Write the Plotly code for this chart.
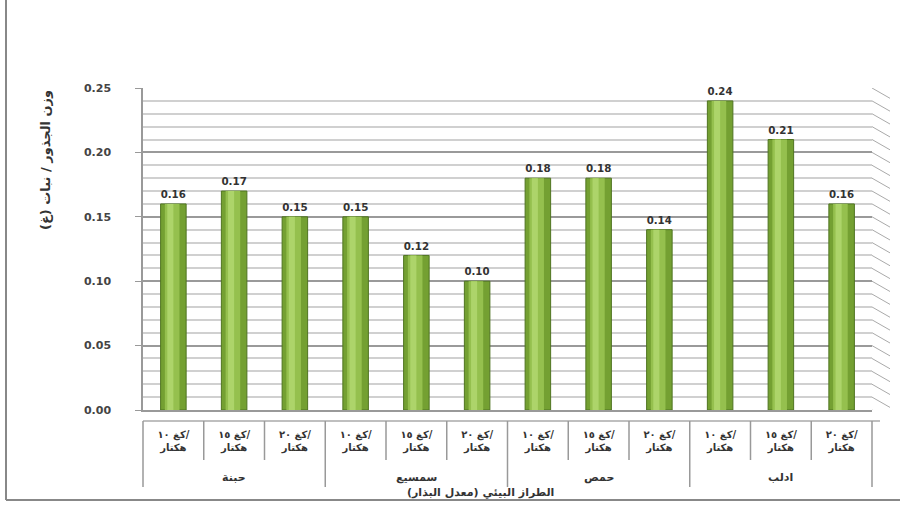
import plotly.graph_objects as go
import numpy as np

groups = ["حبنة", "سمسيع", "حمص", "ادلب"]
rates = ["\u2066١٠\u200e كغ/\u2069<br>هكتار",
         "\u2066١٥\u200e كغ/\u2069<br>هكتار",
         "\u2066٢٠\u200e كغ/\u2069<br>هكتار"]
values = [0.16, 0.17, 0.15, 0.15, 0.12, 0.10, 0.18, 0.18, 0.14, 0.24, 0.21, 0.16]
y_title = "وزن الجذور / نبات (غ)"
x_title = "الطراز البيئي (معدل البذار)"

W, H = 904, 505
L, R, T, B = 143, 32, 88, 95
PW = W - L - R
PH = H - T - B

def px_x(p):
    return (p - L) / PW

def px_y(p):
    return (H - B - p) / PH

n = len(values)
xs = np.arange(n)
tick_text = [r for _ in groups for r in rates]
group_pos = [np.mean(xs[i * len(rates):(i + 1) * len(rates)]) for i in range(len(groups))]

fig = go.Figure()
fig.add_trace(go.Bar(
    x=xs, y=values, width=0.42,
    marker=dict(color="#74A032", line=dict(color="#4F7420", width=1)),
    text=[f"{v:.2f}" for v in values], textposition="outside",
    textfont=dict(family="DejaVu Sans", size=11, color="#333333", weight="bold"),
    cliponaxis=False, hoverinfo="skip",
))
fig.add_trace(go.Bar(
    x=xs, y=values, width=0.24, offset=-0.14,
    marker=dict(color="#95C04E", line=dict(width=0)),
    hoverinfo="skip",
))
fig.add_trace(go.Bar(
    x=xs, y=values, width=0.1, offset=-0.1,
    marker=dict(color="#ADD46A", line=dict(width=0)),
    hoverinfo="skip",
))

shapes = []
# side-wall diagonals
for v in np.round(np.arange(0, 0.2501, 0.01), 2):
    shapes.append(dict(type="line", xref="paper", yref="y",
                       x0=1.0, x1=1.0 + 18 / PW, y0=v, y1=v - 0.008,
                       line=dict(color="#AAAAAA", width=1)))
# floor front edge
shapes.append(dict(type="line", xref="paper", yref="paper",
                   x0=px_x(L), x1=px_x(880), y0=px_y(421), y1=px_y(421),
                   line=dict(color="#AAAAAA", width=1.5)))
# category dividers
for i in range(n + 1):
    big = i % len(rates) == 0
    shapes.append(dict(type="line", xref="paper", yref="paper",
                       x0=i / n, x1=i / n, y0=px_y(421),
                       y1=px_y(487 if big else 460),
                       line=dict(color="#999999", width=1.5)))
# picture frame
shapes.append(dict(type="line", xref="paper", yref="paper",
                   x0=px_x(6), x1=px_x(6), y0=px_y(0), y1=px_y(500),
                   line=dict(color="#888888", width=2)))
shapes.append(dict(type="line", xref="paper", yref="paper",
                   x0=px_x(6), x1=px_x(900), y0=px_y(500), y1=px_y(500),
                   line=dict(color="#888888", width=2)))

annotations = [
    dict(text=y_title, xref="paper", yref="paper", x=px_x(45), y=px_y(160),
         xanchor="center", yanchor="middle",
         textangle=-90, showarrow=False,
         font=dict(size=13, color="#333333", weight="bold")),
    dict(text=x_title, xref="paper", yref="paper", x=px_x(480), y=px_y(493),
         xanchor="center", yanchor="middle",
         showarrow=False, font=dict(size=11, color="#333333", weight="bold")),
]
for g, p in zip(groups, group_pos):
    annotations.append(dict(text=g, xref="x", yref="paper", x=p, y=px_y(477),
                            xanchor="center", yanchor="middle", showarrow=False,
                            font=dict(size=11, color="#333333", weight="bold")))

fig.update_layout(
    width=W, height=H, margin=dict(l=L, r=R, t=T, b=B),
    paper_bgcolor="white", plot_bgcolor="white",
    barmode="overlay", showlegend=False,
    font=dict(family="DejaVu Sans", color="#333333"),
    shapes=shapes, annotations=annotations,
)
fig.update_yaxes(
    range=[0, 0.25], dtick=0.05, tickformat=".2f",
    tickfont=dict(family="DejaVu Sans", size=11, color="#444444", weight="bold"),
    ticklabelstandoff=22,
    showline=True, linecolor="#999999", linewidth=1.5,
    ticks="outside", ticklen=6, tickcolor="#999999",
    showgrid=True, gridcolor="#9A9A9A", gridwidth=1.5,
    minor=dict(dtick=0.01, showgrid=True, gridcolor="#D0D0D0", gridwidth=1.5),
    zeroline=False,
)
fig.update_xaxes(
    range=[-0.5, n - 0.5], tickvals=xs, ticktext=tick_text,
    tickfont=dict(family="DejaVu Sans", size=10, color="#333333", weight="bold"),
    ticklabelstandoff=14,
    showline=True, linecolor="#999999", linewidth=1.5,
    showgrid=False, zeroline=False,
)

fig.write_html("out.html")
